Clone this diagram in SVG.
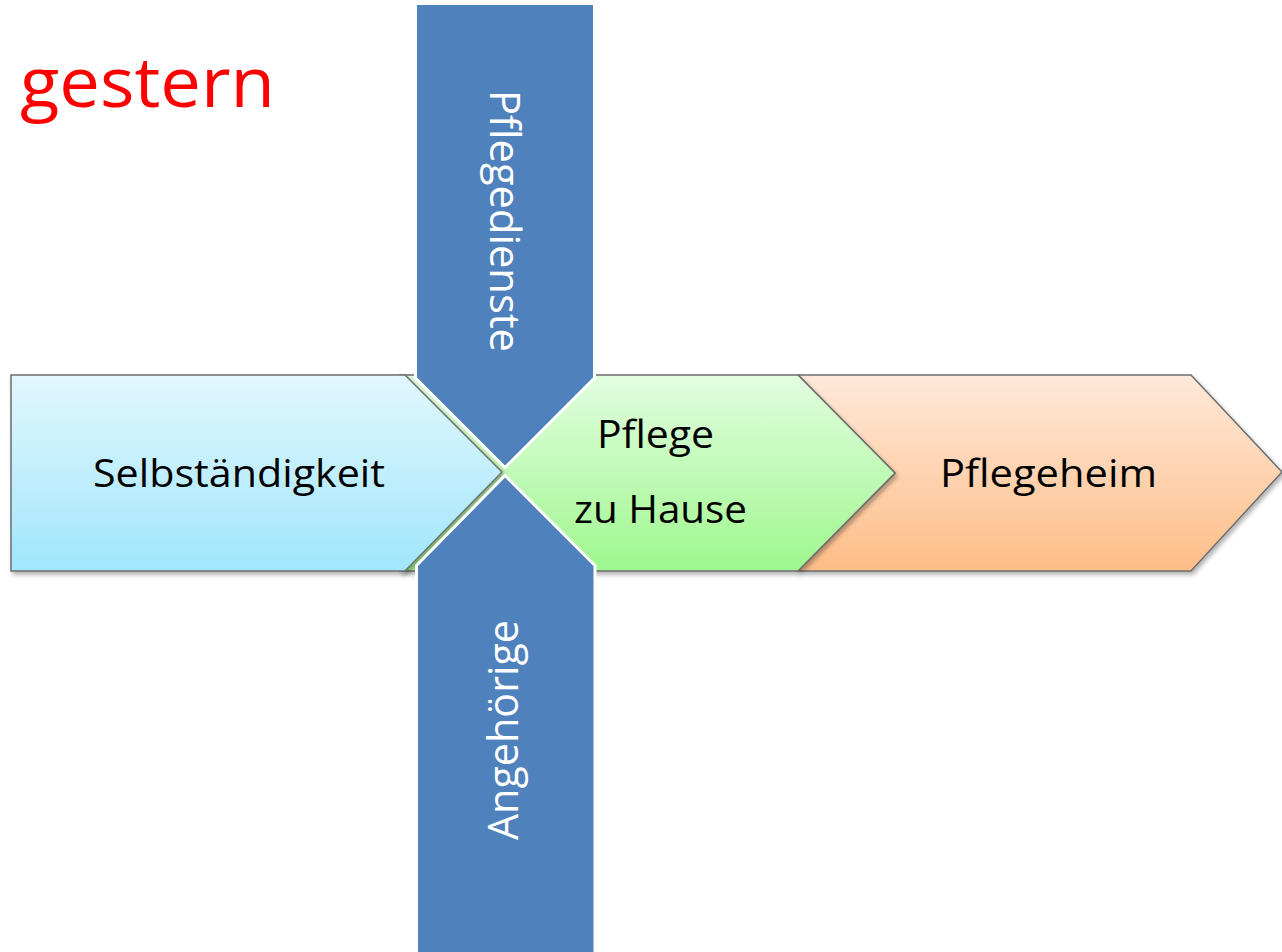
<svg xmlns="http://www.w3.org/2000/svg" width="1282" height="952" viewBox="0 0 1282 952">
<style>
.box{stroke:#6e6e6e;stroke-width:1.5;stroke-linejoin:miter}
.bar{fill:#4f81bd;stroke:#ffffff;stroke-width:3}
.lbl{font-family:"Open Sans","Noto Sans","Liberation Sans",sans-serif;font-size:38px;fill:#000000}
.vlbl{font-family:"Open Sans","Noto Sans","Liberation Sans",sans-serif;font-size:42px;fill:#ffffff}
.title{font-family:"Open Sans","Noto Sans","Liberation Sans",sans-serif;font-size:70px;fill:#ff0000}
</style>
<defs>
<linearGradient id="gBlue" x1="0" y1="0" x2="0" y2="1"><stop offset="0" stop-color="#e2f7fe"/><stop offset="1" stop-color="#a0e6fb"/></linearGradient>
<linearGradient id="gGreen" x1="0" y1="0" x2="0" y2="1"><stop offset="0" stop-color="#e2fde0"/><stop offset="1" stop-color="#9ff78e"/></linearGradient>
<linearGradient id="gOrange" x1="0" y1="0" x2="0" y2="1"><stop offset="0" stop-color="#ffe9da"/><stop offset="1" stop-color="#fdbd87"/></linearGradient>
<filter id="sh" x="-5%" y="-10%" width="115%" height="125%"><feDropShadow dx="2" dy="3" stdDeviation="2" flood-color="#000" flood-opacity="0.3"/></filter>
</defs>
<text class="title" x="20" y="107" textLength="255" lengthAdjust="spacingAndGlyphs">gestern</text>
<g id="pflegeheim">
<polygon class="box" filter="url(#sh)" fill="url(#gOrange)" points="798,375 1191,375 1282,472 1191,571 798,571 895,473"/>
<text class="lbl" x="940" y="487" textLength="217" lengthAdjust="spacingAndGlyphs">Pflegeheim</text>
</g>
<g id="pflege-zu-hause">
<polygon class="box" filter="url(#sh)" fill="url(#gGreen)" points="400,375 798,375 895,473 798,571 400,571 497,473"/>
<text class="lbl" x="597" y="448" textLength="117" lengthAdjust="spacingAndGlyphs">Pflege</text>
<text class="lbl" x="574" y="523" textLength="173" lengthAdjust="spacingAndGlyphs">zu Hause</text>
</g>
<g id="selbstaendigkeit">
<polygon class="box" filter="url(#sh)" fill="url(#gBlue)" points="11,375 405,375 502,472 405,571 11,571"/>
<text class="lbl" x="93" y="487" textLength="292" lengthAdjust="spacingAndGlyphs">Selbständigkeit</text>
</g>
<g id="pflegedienste">
<polygon class="bar" points="415.5,3.5 594.5,3.5 594.5,378 505,467.5 415.5,378"/>
<text class="vlbl" transform="translate(490,90) rotate(90)" x="0" y="0" textLength="262" lengthAdjust="spacingAndGlyphs">Pflegedienste</text>
</g>
<g id="angehoerige">
<polygon class="bar" points="505,475.5 595,565.5 595,954 416.5,954 416.5,565.5"/>
<text class="vlbl" transform="translate(518,840) rotate(-90)" x="0" y="0" textLength="220" lengthAdjust="spacingAndGlyphs">Angehörige</text>
</g>
<g id="connectors"></g>
</svg>
